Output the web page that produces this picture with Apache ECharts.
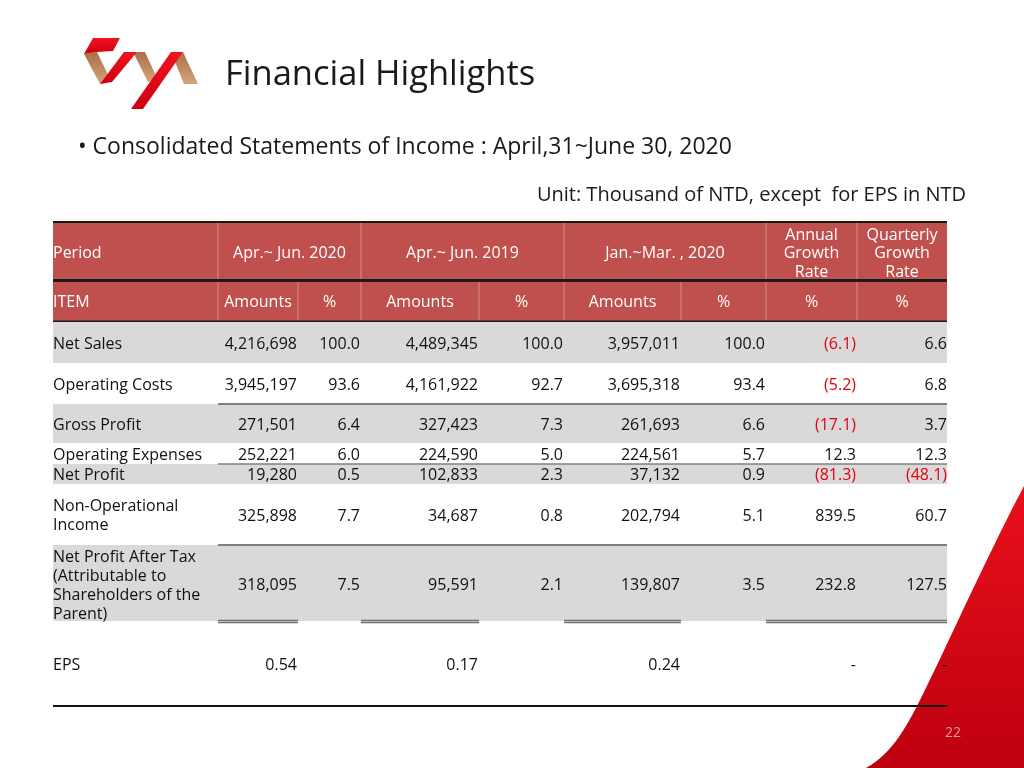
<!DOCTYPE html>
<html>
<head>
<meta charset="utf-8">
<script src="https://cdn.jsdelivr.net/npm/echarts@6/dist/echarts.min.js"></script>
<style>html,body{margin:0;padding:0;background:#fff}#c{width:1024px;height:768px}</style>
</head>
<body>
<div id="c"></div>
<script>
// ---- data ----
const title = 'Financial Highlights';
const subtitle = '• Consolidated Statements of Income : April,31~June 30, 2020';
const unitNote = 'Unit: Thousand of NTD, except  for EPS in NTD';
const periods = ['Apr.~ Jun. 2020', 'Apr.~ Jun. 2019', 'Jan.~Mar. , 2020'];
const growthHeaders = ['Annual\nGrowth\nRate', 'Quarterly\nGrowth\nRate'];
const subHeaders = ['Amounts', '%', 'Amounts', '%', 'Amounts', '%', '%', '%'];
const items = ['Net Sales', 'Operating Costs', 'Gross Profit', 'Operating Expenses', 'Net Profit',
  'Non-Operational\nIncome', 'Net Profit After Tax\n(Attributable to\nShareholders of the\nParent)', 'EPS'];
const amt2020 = [4216698, 3945197, 271501, 252221, 19280, 325898, 318095, 0.54];
const pct2020 = [100.0, 93.6, 6.4, 6.0, 0.5, 7.7, 7.5, null];
const amt2019 = [4489345, 4161922, 327423, 224590, 102833, 34687, 95591, 0.17];
const pct2019 = [100.0, 92.7, 7.3, 5.0, 2.3, 0.8, 2.1, null];
const amtQ1 = [3957011, 3695318, 261693, 224561, 37132, 202794, 139807, 0.24];
const pctQ1 = [100.0, 93.4, 6.6, 5.7, 0.9, 5.1, 3.5, null];
const annualGrowth = [-6.1, -5.2, -17.1, 12.3, -81.3, 839.5, 232.8, null];
const quarterlyGrowth = [6.6, 6.8, 3.7, 12.3, -48.1, 60.7, 127.5, null];
const pageNo = '22';

// ---- layout ----
const FONT = '"Open Sans", "Noto Sans", sans-serif';
const DY = 1.5;
const colX = [53, 218, 298, 361, 479, 564, 681, 766, 857, 947];
const rowTop = [322, 363, 404, 444, 464, 484, 545, 622];
const rowBot = [363, 404, 443, 464, 484, 545, 621, 706];
const rowFill = ['#D9D9D9', null, '#D9D9D9', null, '#D9D9D9', null, '#D9D9D9', null];
const RED = '#C0504D';
const NEG = '#E3000F';

function fmtAmt(v) {
  if (v == null) return '';
  if (Math.abs(v) < 1) return v.toFixed(2);
  return v.toLocaleString('en-US');
}
function fmtPct(v) { return v == null ? '' : v.toFixed(1); }
function fmtGrowth(v) {
  if (v == null) return '-';
  return v < 0 ? '(' + Math.abs(v).toFixed(1) + ')' : v.toFixed(1);
}

const g = [];
function rect(x, y, w, h, fill) { g.push({ type: 'rect', silent: true, shape: { x, y, width: w, height: h }, style: { fill } }); }
function line(x1, y1, x2, y2, stroke, lw) { g.push({ type: 'line', silent: true, shape: { x1, y1, x2, y2 }, style: { stroke, lineWidth: lw } }); }
function text(t, x, y, opt) {
  opt = opt || {};
  g.push({ type: 'text', silent: true, z: 10, style: {
    text: t, x, y: y + DY, fill: opt.fill || '#111', fontSize: opt.size || 16, fontFamily: FONT,
    align: opt.align || 'left', verticalAlign: 'middle', lineHeight: opt.lh || 19
  } });
}
function poly(pts, fill) { g.push({ type: 'polygon', silent: true, shape: { points: pts }, style: { fill } }); }
function bez(p0, p1, p2, p3, n) {
  const out = [];
  for (let i = 0; i <= n; i++) {
    const t = i / n, u = 1 - t;
    out.push([u*u*u*p0[0] + 3*u*u*t*p1[0] + 3*u*t*t*p2[0] + t*t*t*p3[0],
              u*u*u*p0[1] + 3*u*u*t*p1[1] + 3*u*t*t*p2[1] + t*t*t*p3[1]]);
  }
  return out;
}

// logo
const gold = { type: 'linear', x: 0, y: 0, x2: 0, y2: 1, colorStops: [{ offset: 0, color: '#A8704A' }, { offset: 1, color: '#D4A47B' }] };
const redG = { type: 'linear', x: 0, y: 0, x2: 0, y2: 1, colorStops: [{ offset: 0, color: '#F0141E' }, { offset: 1, color: '#CC0010' }] };
poly([[84, 54], [97, 52], [111, 81], [100, 84]], gold);
poly([[133, 52], [145, 52], [158, 80], [148, 82]], gold);
poly([[171, 52], [183, 52], [198, 84], [184, 84]], gold);
poly([[84, 54], [93, 38], [120, 38], [113, 51], [97, 52]], redG);
poly([[100, 84], [112, 82], [137, 52], [124, 52]], redG);
poly([[131, 109], [143, 109], [183, 52], [171, 52]], redG);

// red swoosh
const edge = bez([1024, 486], [985, 560], [945, 650], [920, 700], 20)
  .concat(bez([920, 700], [905, 730], [890, 755], [866, 768], 12).slice(1));
edge.push([1024, 768]);
poly(edge, { type: 'linear', x: 0, y: 0, x2: 0, y2: 1, colorStops: [{ offset: 0, color: '#E8101A' }, { offset: 1, color: '#BE0010' }] });
text(pageNo, 953, 732, { fill: '#E89A9A', size: 14, align: 'center' });

// titles
text(title, 225, 74, { size: 34.5, fill: '#1a1a1a' });
text(subtitle, 78, 146, { size: 23, fill: '#1a1a1a' });
text(unitNote, 966, 194, { size: 20, fill: '#1a1a1a', align: 'right' });

// header fills
rect(53, 222, 894, 99, RED);
[218, 361, 564, 766, 857].forEach(x => line(x, 223, x, 279, '#D98C8A', 1));
[218, 298, 361, 479, 564, 681, 766, 857].forEach(x => line(x, 282, x, 320, '#D98C8A', 1));
line(53, 222, 947, 222, '#1a1a1a', 2);
line(53, 280.5, 947, 280.5, '#1a1a1a', 3);
line(53, 321.5, 947, 321.5, '#1a1a1a', 2);

// header text
text('Period', 53, 252, { fill: '#fff' });
periods.forEach((p, i) => text(p, (colX[1 + 2 * i] + colX[3 + 2 * i]) / 2, 252, { fill: '#fff', align: 'center' }));
growthHeaders.forEach((p, i) => text(p, (colX[7 + i] + colX[8 + i]) / 2, 252, { fill: '#fff', align: 'center', lh: 18.5 }));
text('ITEM', 53, 301, { fill: '#fff' });
subHeaders.forEach((s, i) => text(s, (colX[1 + i] + colX[2 + i]) / 2, 301, { fill: '#fff', align: 'center' }));

// body rows
items.forEach((it, r) => {
  if (rowFill[r]) rect(53, rowTop[r], 894, rowBot[r] - rowTop[r], rowFill[r]);
});
line(218, 404, 947, 404, '#7F7F7F', 2);
line(218, 464, 947, 464, '#7F7F7F', 1.5);
line(218, 545, 947, 545, '#7F7F7F', 2);
[[218, 298], [361, 479], [564, 681], [766, 947]].forEach(s => {
  line(s[0], 620.5, s[1], 620.5, '#6F6F6F', 1.5);
  line(s[0], 622.5, s[1], 622.5, '#6F6F6F', 1.5);
});
line(53, 706, 947, 706, '#111', 2);

const cols = [amt2020, pct2020, amt2019, pct2019, amtQ1, pctQ1];
items.forEach((it, r) => {
  const cy = (rowTop[r] + rowBot[r]) / 2 + (r === 6 ? 1 : 0);
  text(it, 53, cy, { lh: 19 });
  cols.forEach((arr, c) => {
    const s = c % 2 === 0 ? fmtAmt(arr[r]) : fmtPct(arr[r]);
    text(s, colX[2 + c] - 1, cy, { align: 'right' });
  });
  const a = annualGrowth[r], q = quarterlyGrowth[r];
  text(fmtGrowth(a), colX[8] - 1, cy, { align: 'right', fill: a != null && a < 0 ? NEG : '#111' });
  text(fmtGrowth(q), colX[9], cy, { align: 'right', fill: q != null && q < 0 ? NEG : '#111' });
});

const chart = echarts.init(document.getElementById('c'), null, { renderer: 'canvas' });
chart.setOption({ backgroundColor: '#fff', animation: false, graphic: { elements: g } });
</script>
</body>
</html>
